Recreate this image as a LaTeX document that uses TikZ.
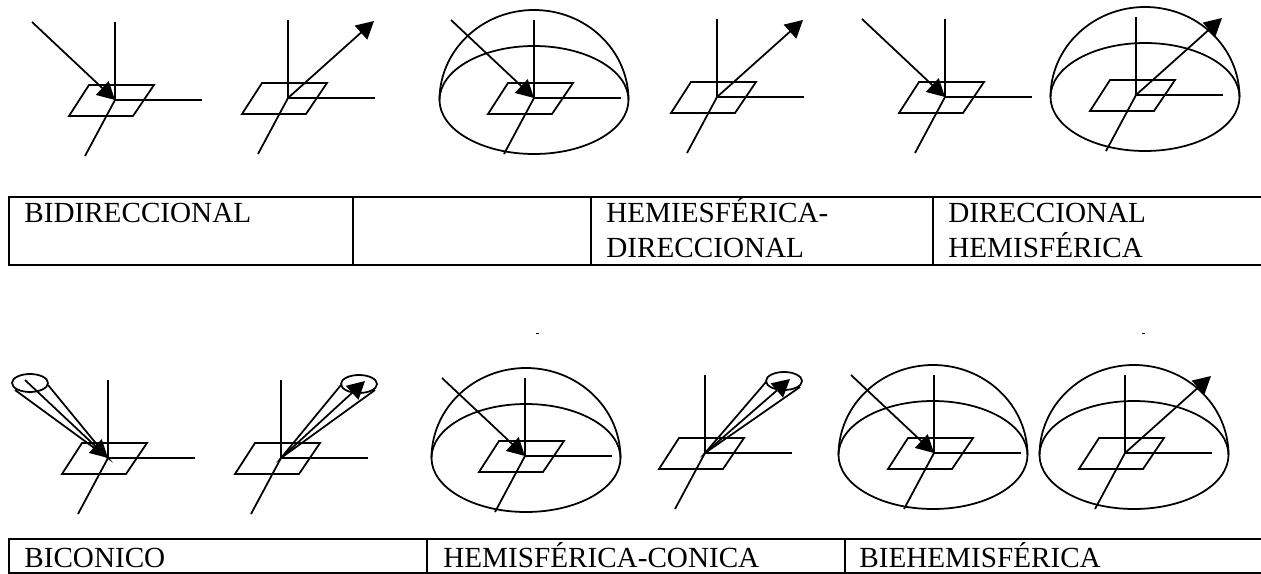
\documentclass[tikz,border=0pt]{standalone}
\usepackage{fontspec}
\setmainfont{Liberation Serif}
\usepackage{tikz}
\usetikzlibrary{arrows.meta}

\begin{document}
\begin{tikzpicture}[
    x=0.02cm, y=-0.02cm,
    linea/.style={black, line width=1pt},
    flecha/.style={linea, -{Triangle[length=3.5mm, width=3.7mm]}},
    tabla/.style={black, line width=1.3pt},
    celda/.style={anchor=base west, inner sep=0pt, align=left,
                  font=\fontsize{16.6}{19.6}\selectfont},
    ejes/.pic={
        \coordinate (-o) at (0,0);
        \coordinate (-i) at (-83,-78);
        \coordinate (-s) at (86,-77);
        \draw[linea] (0,-78)--(0,0)--(87,0);
        \draw[linea] (0,0)--(-30,56);
        \draw[linea] (-26,-15)--(39,-15)--(18,16)--(-46,16)--cycle;
    },
    domo/.pic={
        \draw[linea] (0,0) ellipse [x radius=94.5, y radius=54];
        \draw[linea] (-94.5,0) arc [start angle=180, end angle=360, x radius=94.5, y radius=90];
    },
    cono/.pic={
        \draw[linea] (0,0) ellipse [x radius=18, y radius=9];
    }]
\useasboundingbox (0,0) rectangle (1261,574);

% ejes y placa
\foreach \nom/\x/\y in {a/115/100, b/288/98, c/534/98, d/717/97, e/945/97, f/1136/95,
                        g/108/458, h/281/458, i/525/456, j/705/453, k/934/453, l/1125/453}
    \pic (\nom) at (\x,\y) {ejes};

% hemisferios
\foreach \x/\y in {534/100, 1145/97, 526/458, 933/455, 1134/455}
    \pic at (\x,\y) {domo};

% conos
\pic at (30,383) {cono};
\pic at (359,384) {cono};
\pic at (784,381) {cono};
\coordinate (g1) at (48,385);
\coordinate (g2) at (15,390);
\coordinate (g3) at (25,380);
\coordinate (h1) at (341,385);
\coordinate (h2) at (375,390);
\coordinate (h3) at (365,381);
\coordinate (j1) at (766,382);
\coordinate (j2) at (800,387);
\coordinate (j3) at (790,379);
\draw[linea] (g1)--(g-o)--(g2);
\draw[linea] (h1)--(h-o)--(h2);
\draw[linea] (j1)--(j-o)--(j2);

% flechas
\foreach \nom in {a,c,e,i,k}
    \draw[flecha] (\nom-i)--(\nom-o);
\foreach \nom in {b,d,f,l}
    \draw[flecha] (\nom-o)--(\nom-s);
\draw[flecha] (g3)--(g-o);
\draw[flecha] (h-o)--(h3);
\draw[flecha] (j-o)--(j3);

% tablas
\draw[tabla] (1261,197)--(9,197)--(9,265)--(1261,265);
\draw[tabla] (353,197)--(353,265);
\draw[tabla] (591,197)--(591,265);
\draw[tabla] (933,197)--(933,265);
\draw[tabla] (1261,539)--(9,539)--(9,573)--(1261,573);
\draw[tabla] (427,539)--(427,573);
\draw[tabla] (845,539)--(845,573);

\node[celda] (bidir) at (24,223) {BIDIRECCIONAL};
\node[celda] (hemidir) at (606,257) {HEMIESFÉRICA-\\DIRECCIONAL};
\node[celda] (dirhem) at (948,257) {DIRECCIONAL\\HEMISFÉRICA};
\node[celda] (bicon) at (24,567) {BICONICO};
\node[celda] (hemicon) at (443,567) {HEMISFÉRICA-CONICA};
\node[celda] (bihem) at (859,567) {BIEHEMISFÉRICA};

% marcas sueltas
\coordinate (m1) at (535.5,333.5);
\coordinate (m2) at (538.5,333.5);
\coordinate (m3) at (1141.5,333.5);
\coordinate (m4) at (1144.5,333.5);
\draw[linea] (m1)--(m2);
\draw[linea] (m3)--(m4);
\end{tikzpicture}
\end{document}
